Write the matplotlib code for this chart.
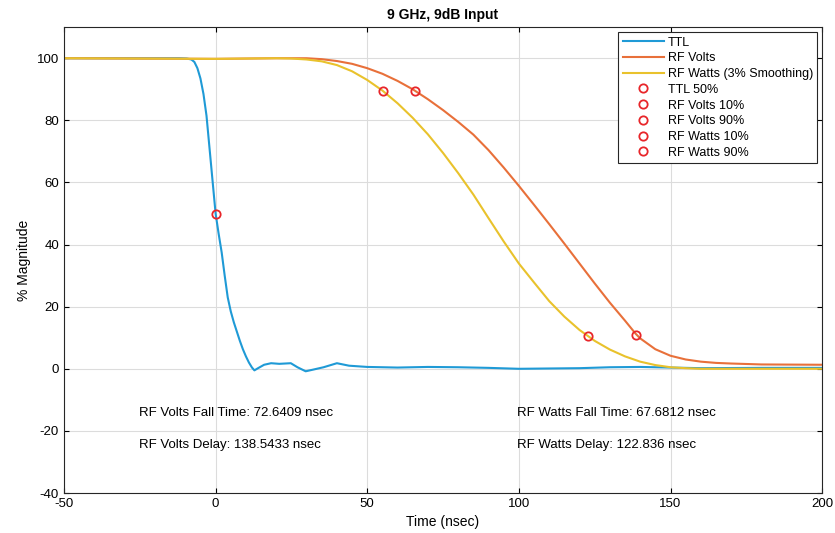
import numpy as np
import matplotlib
matplotlib.use("Agg")
from matplotlib import pyplot as plt

plt.rcParams['font.family'] = ['Liberation Sans', 'DejaVu Sans']
plt.rcParams['axes.unicode_minus'] = False

# values (time in nsec, % magnitude)
ttl_t = [-50, -20, -12, -9.5, -8, -7, -6, -5, -4, -3, -2, -1, 0, 1, 2, 3, 4, 5, 6, 7,
         8, 9, 10, 11, 12, 12.8, 14, 16, 18.3, 21, 24.8, 27, 29.7, 32, 35.6, 40, 44,
         50, 60, 70, 80, 90, 100, 110, 120, 130, 140, 150, 160, 180, 200]
ttl_v = [100, 100, 100, 99.9, 99.6, 98.8, 96.8, 93.5, 88.5, 81.5, 71, 60.5, 50, 43.5,
         37.5, 30, 23, 18.5, 15, 12, 9, 6.3, 4, 2, 0.4, -0.5, 0.2, 1.3, 1.8, 1.6, 1.8,
         0.5, -0.8, -0.3, 0.5, 1.8, 1.0, 0.6, 0.4, 0.6, 0.5, 0.3, 0.0, 0.1, 0.2, 0.5,
         0.6, 0.4, 0.2, 0.3, 0.3]

volts_t = [-50, 0, 20, 30, 35, 40, 45, 50, 55, 60, 65, 70, 75, 80, 85, 90, 95, 100,
           105, 110, 115, 120, 125, 130, 135, 138.5, 140, 145, 150, 155, 160, 165,
           170, 180, 200]
volts_v = [100, 99.8, 100, 100, 99.7, 99.1, 98.2, 96.8, 95, 92.7, 90, 86.8, 83.3,
           79.5, 75.4, 70.4, 64.8, 58.9, 52.8, 46.6, 40.3, 33.9, 27.5, 21.3, 15.5, 11.3,
           9.8, 6.3, 4.2, 3.0, 2.3, 1.9, 1.7, 1.4, 1.3]

watts_t = [-50, 0, 20, 25, 30, 35, 40, 45, 50, 55, 60, 65, 70, 75, 80, 85, 90, 95,
           100, 105, 110, 115, 120, 125, 130, 135, 140, 145, 150, 155, 160, 200]
watts_v = [100, 99.8, 100, 99.9, 99.6, 99, 97.8, 95.8, 93, 89.6, 85.5, 80.8, 75.5,
           69.5, 63, 56.1, 48.5, 41, 33.9, 27.8, 21.8, 16.8, 12.5, 9, 6.2, 4, 2.3, 1.2,
           0.5, 0.2, 0, 0]

# marker points
mark_lbl = ['TTL 50%', 'RF Volts 10%', 'RF Volts 90%', 'RF Watts 10%', 'RF Watts 90%']
mark_t = [0, 138.5433, 65.9024, 122.836, 55.1548]
mark_v = [50, 11, 89.5, 10.5, 89.5]

fig = plt.figure(figsize=(8.35, 5.33), dpi=100)
ax = fig.add_axes([0.0766, 0.075, 0.908, 0.874])

ax.plot(ttl_t, ttl_v, color='#1f9ad6', lw=1.5, label='TTL')
ax.plot(volts_t, volts_v, color='#e8703a', lw=1.5, label='RF Volts')
ax.plot(watts_t, watts_v, color='#e9c22c', lw=1.5, label='RF Watts (3% Smoothing)')
for lbl, t, v in zip(mark_lbl, mark_t, mark_v):
    ax.plot(t, v, 'o', mfc='none', mec='#e8262a', mew=1.3, ms=6, label=lbl)

ax.set_xlim(-50, 200)
ax.set_ylim(-40, 110)
ax.set_xticks([-50, 0, 50, 100, 150, 200])
ax.set_yticks([-40, -20, 0, 20, 40, 60, 80, 100])
ax.grid(True, color='#dcdcdc', lw=0.8)
ax.tick_params(direction='in', top=True, right=True, labelsize=9.5)
for s in ax.spines.values():
    s.set_color('#262626')

ax.set_title('9 GHz, 9dB Input', fontsize=10, fontweight='bold', pad=6)
ax.set_xlabel('Time (nsec)', fontsize=10)
ax.set_ylabel('% Magnitude', fontsize=10)

ax.text(-25.2, -14.3, 'RF Volts Fall Time: 72.6409 nsec', fontsize=9.5, va='center')
ax.text(-25.2, -24.6, 'RF Volts Delay: 138.5433 nsec', fontsize=9.5, va='center')
ax.text(99.3, -14.3, 'RF Watts Fall Time: 67.6812 nsec', fontsize=9.5, va='center')
ax.text(99.3, -24.6, 'RF Watts Delay: 122.836 nsec', fontsize=9.5, va='center')

leg = ax.legend(loc='upper right', fontsize=9, fancybox=False, edgecolor='#262626',
                framealpha=1, handlelength=3.3, labelspacing=0.3, borderaxespad=0.4,
                handletextpad=0.3, borderpad=0.35)
leg.get_frame().set_linewidth(0.8)

fig.savefig('out.png', dpi=100)
